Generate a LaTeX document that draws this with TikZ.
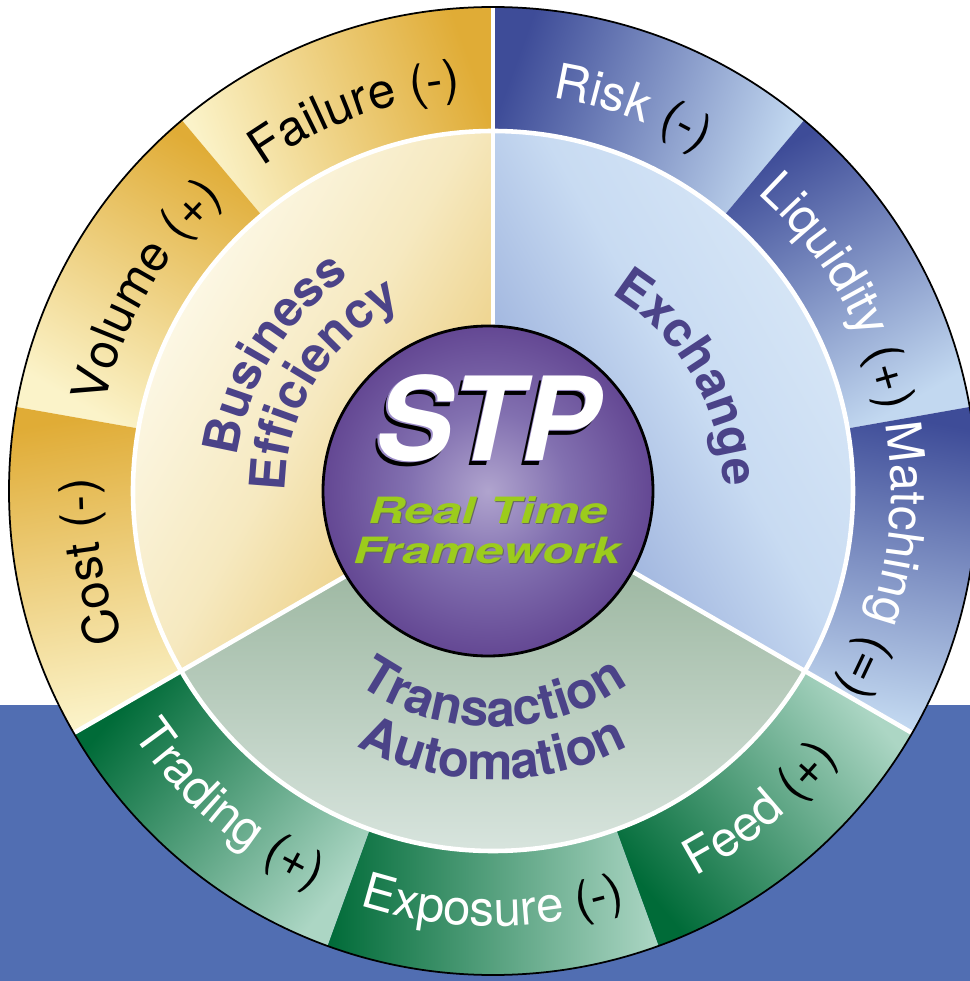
\documentclass[tikz,border=0pt]{standalone}
\usepackage{fontspec}
\setmainfont{TeX Gyre Heros}
\newfontfamily\widefont[FakeStretch=1.4]{TeX Gyre Heros}
\usepackage{xcolor}
\usepackage{tikz}
\usetikzlibrary{decorations.text}

\definecolor{goldDark}{HTML}{E0AC36}
\definecolor{goldLight}{HTML}{FBF3C9}
\definecolor{blueDark}{HTML}{3E4C98}
\definecolor{blueLight}{HTML}{C2D8F0}
\definecolor{greenDark}{HTML}{006B38}
\definecolor{greenLight}{HTML}{ACD6C4}
\definecolor{bizIn}{HTML}{E8C46A}
\definecolor{bizMid}{HTML}{F6E9C0}
\definecolor{bizOut}{HTML}{FEFCF0}
\definecolor{exIn}{HTML}{8CA2D4}
\definecolor{exMid}{HTML}{C8DBF2}
\definecolor{exOut}{HTML}{DDEBF8}
\definecolor{trIn}{HTML}{8EAC92}
\definecolor{trOut}{HTML}{E2ECE8}
\definecolor{seaBlue}{HTML}{516EB2}
\definecolor{labelPurple}{HTML}{4B4388}
\definecolor{limeText}{HTML}{9CCC1C}
\definecolor{stpLavender}{HTML}{9C8CC8}
\definecolor{ballHi}{HTML}{B0A4CE}
\definecolor{ballMid}{HTML}{8270B0}
\definecolor{ballLow}{HTML}{583888}
\definecolor{ballEdge}{HTML}{3A1268}

\newcommand{\ringfont}{\fontsize{14}{17}\selectfont}
\newcommand{\sectfont}{\fontsize{14}{17}\selectfont\bfseries\color{labelPurple}}

\pgfdeclareradialshading{stpball}{\pgfpointorigin}{%
  color(0bp)=(ballHi); color(12bp)=(ballMid); color(30bp)=(ballLow); color(50bp)=(ballEdge)}

\tikzstyle{divider} = [white, line width = 1.3pt]
\tikzstyle{rim} = [black, line width = 0.5pt]
\tikzstyle{stptext} = [anchor = base, inner sep = 0pt, font = \fontsize{33}{36}\selectfont\bfseries\itshape]
\tikzstyle{rttext} = [anchor = base, inner sep = 0pt, font = \widefont\fontsize{10.3}{12}\selectfont\bfseries\itshape]
\tikzset{
  ringlabel/.style = {decorate, decoration = {text along path, text align = center, text = {#1}}}
}

\begin{document}
\begin{tikzpicture}
    \useasboundingbox (-4.93,-4.90) rectangle (4.77,4.91);
    \fill[white] (-4.93,-4.90) rectangle (4.77,4.91);
    \fill[seaBlue] (-4.93,-4.90) rectangle (4.77,-2.14);

    % outer ring: nine pieces of 40 degrees
    \foreach \mid/\dk/\lt/\sa in {110/goldDark/goldLight/110, 150/goldDark/goldLight/150, 190/goldDark/goldLight/190,
            70/blueDark/blueLight/-110, 30/blueDark/blueLight/-150, -10/blueDark/blueLight/-190,
            -50/greenDark/greenLight/-50, -90/greenDark/greenLight/-90, -130/greenDark/greenLight/-130}
        \shade[bottom color = \dk, top color = \lt, shading angle = \sa]
            ({\mid-20}:3.6) arc[start angle = \mid-20, end angle = \mid+20, radius = 3.6]
            -- ({\mid+20}:4.84) arc[start angle = \mid+20, end angle = \mid-20, radius = 4.84] -- cycle;

    % inner ring: three sectors (middle color last, top/bottom reset it)
    \shade[bottom color = bizIn, top color = bizOut, middle color = bizMid, shading angle = 60]
        (0,0) -- (90:3.6) arc[start angle = 90, end angle = 210, radius = 3.6] -- cycle;
    \shade[bottom color = exIn, top color = exOut, middle color = exMid, shading angle = -60]
        (0,0) -- (-30:3.6) arc[start angle = -30, end angle = 90, radius = 3.6] -- cycle;
    \shade[bottom color = trIn, top color = trOut, shading angle = 180]
        (0,0) -- (210:3.6) arc[start angle = 210, end angle = 330, radius = 3.6] -- cycle;

    \draw[divider] (0,0) circle[radius = 3.6];
    \foreach \a in {90, 210, -30}
        \draw[divider] (\a:1.6) -- (\a:4.84);
    \draw[rim] (0,0) circle[radius = 4.84];

    % labels on the outer ring
    \path[ringlabel = {|\ringfont|Failure (-)}] (145:3.98) arc[start angle = 145, end angle = 75, radius = 3.98];
    \path[ringlabel = {|\ringfont|Volume (+)}] (185:3.98) arc[start angle = 185, end angle = 115, radius = 3.98];
    \path[ringlabel = {|\ringfont|Cost (-)}] (225:3.98) arc[start angle = 225, end angle = 155, radius = 3.98];
    \path[ringlabel = {|\ringfont\color{white}|Risk |\ringfont\color{black}|(-)}] (105:3.98) arc[start angle = 105, end angle = 35, radius = 3.98];
    \path[ringlabel = {|\ringfont\color{white}|Liquidity |\ringfont\color{black}|(+)}] (65:3.98) arc[start angle = 65, end angle = -5, radius = 3.98];
    \path[ringlabel = {|\ringfont\color{white}|Matching |\ringfont\color{black}|(=)}] (25:3.98) arc[start angle = 25, end angle = -45, radius = 3.98];
    \path[ringlabel = {|\ringfont\color{white}|Feed |\ringfont\color{black}|(+)}] (-85:4.35) arc[start angle = -85, end angle = -15, radius = 4.35];
    \path[ringlabel = {|\ringfont\color{white}|Exposure |\ringfont\color{black}|(-)}] (-125:4.35) arc[start angle = -125, end angle = -55, radius = 4.35];
    \path[ringlabel = {|\ringfont\color{white}|Trading |\ringfont\color{black}|(+)}] (-165:4.35) arc[start angle = -165, end angle = -95, radius = 4.35];

    % labels on the inner ring
    \path[ringlabel = {|\sectfont|Business}] (190:2.58) arc[start angle = 190, end angle = 106, radius = 2.58];
    \path[ringlabel = {|\sectfont|Efficiency}] (198:2.08) arc[start angle = 198, end angle = 98, radius = 2.08];
    \path[ringlabel = {|\sectfont|Exchange}] (75:2.30) arc[start angle = 75, end angle = -15, radius = 2.30];
    \path[ringlabel = {|\sectfont\fontsize{14.5}{17}\selectfont|Transaction}] (-140:2.36) arc[start angle = -140, end angle = -40, radius = 2.36];
    \path[ringlabel = {|\sectfont\fontsize{14.5}{17}\selectfont|Automation}] (-135:2.89) arc[start angle = -135, end angle = -45, radius = 2.89];

    % the ball in the middle
    \node[circle, draw, line width = 0.8pt, shade, shading = stpball, minimum size = 3.3cm, inner sep = 0pt] (ball) at (-0.05,0) {};
    \node[stptext, text = black] (stpshadow) at (-0.10,0.255) {STP};
    \node[stptext, text = stpLavender] (stpedge) at (-0.072,0.293) {STP};
    \node[stptext, text = white] (stp) at (-0.06,0.31) {STP};
    \node[rttext, text = black!60] (realtimeshadow) at (-0.04,-0.335) {Real Time};
    \node[rttext, text = limeText] (realtime) at (-0.05,-0.32) {Real Time};
    \node[rttext, text = black!60] (frameworkshadow) at (-0.05,-0.735) {Framework};
    \node[rttext, text = limeText] (framework) at (-0.06,-0.72) {Framework};
\end{tikzpicture}
\end{document}
